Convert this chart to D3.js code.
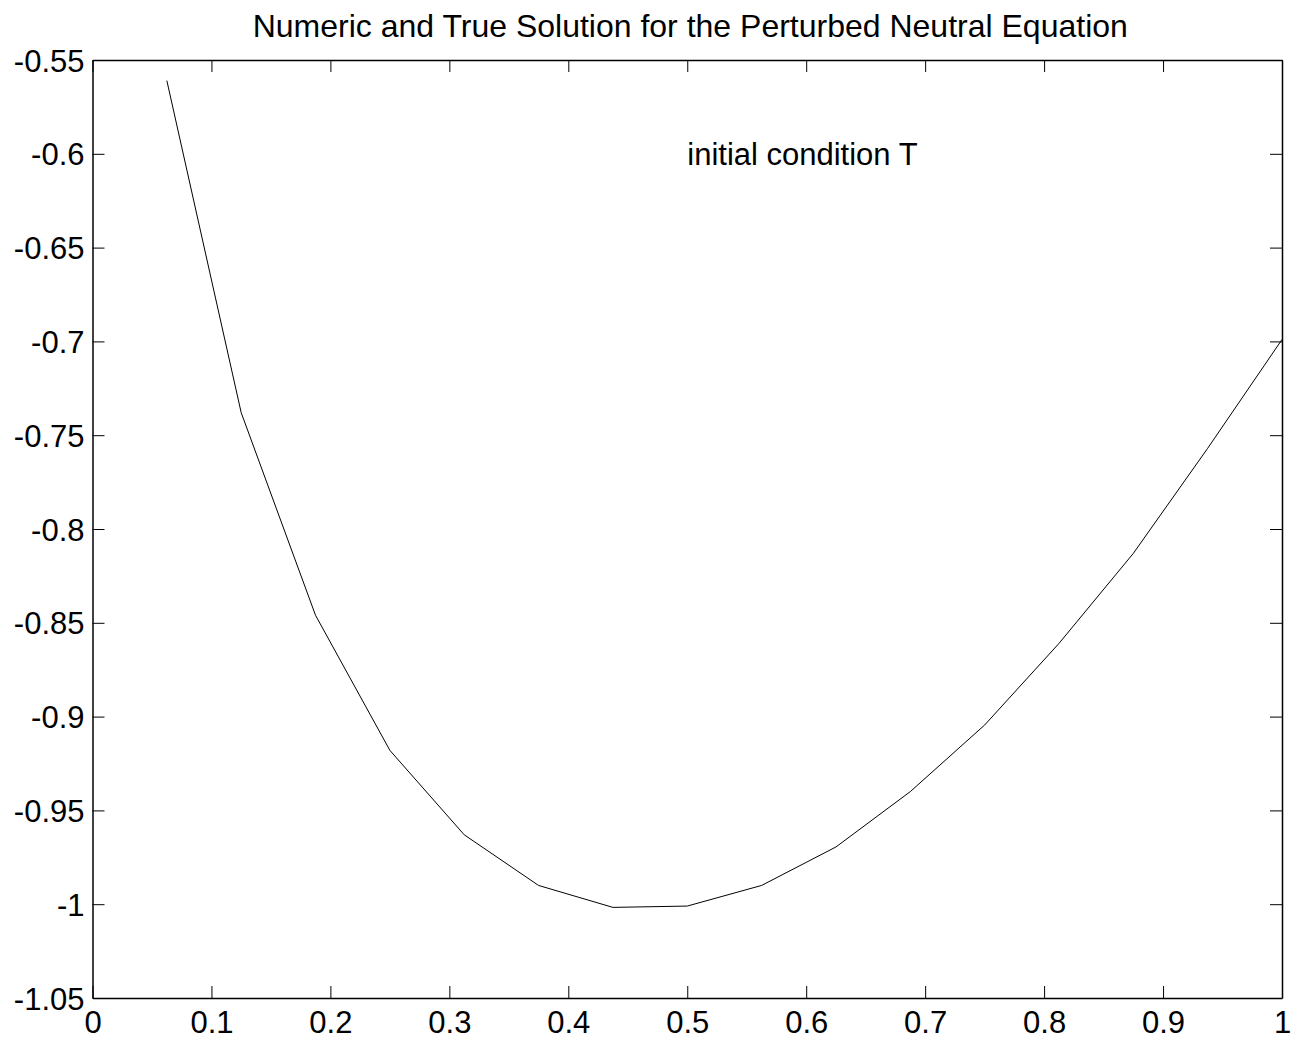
<!DOCTYPE html>
<html lang="en">
  <head>
    <meta charset="UTF-8" />
    <title>Numeric and True Solution for the Perturbed Neutral Equation</title>
    <script src="https://cdn.jsdelivr.net/npm/d3@7"></script>
    <style>
      body { margin: 0; background: #fff; }
      text { font-family: 'Liberation Sans', Arial, sans-serif; fill: #000; }
    </style>
  </head>
  <body>
    <div id='app'></div>

    <script>
  // data (x = k/16)
  const xs = [0.0625, 0.125, 0.1875, 0.25, 0.3125, 0.375, 0.4375, 0.5,
              0.5625, 0.625, 0.6875, 0.75, 0.8125, 0.875, 0.9375, 1.0]
  const ys = [-0.561, -0.738, -0.846, -0.918, -0.963, -0.990, -1.0017, -1.001,
              -0.990, -0.9695, -0.940, -0.9045, -0.861, -0.813, -0.757, -0.699]
  const xTicks = [0, 0.1, 0.2, 0.3, 0.4, 0.5, 0.6, 0.7, 0.8, 0.9, 1]
  const yTicks = [-0.55, -0.6, -0.65, -0.7, -0.75, -0.8, -0.85, -0.9, -0.95, -1, -1.05]

  const width = 1299, height = 1043
  const mLeft = 92.5, mRight = 1282, mTop = 60, mBottom = 998
  const tickLen = 12
  const labelSize = 31

  const svg = d3.select('#app').append('svg')
    .attr('width', width)
    .attr('height', height)

  const x = d3.scaleLinear().domain([0, 1]).range([mLeft, mRight])
  const y = d3.scaleLinear().domain([-1.05, -0.55]).range([mBottom, mTop])

  const fmt = d => String(+d.toFixed(2))

  // bottom + top axes (ticks inward)
  svg.append('g')
    .attr('transform', `translate(0,${mBottom})`)
    .call(d3.axisBottom(x).tickValues(xTicks).tickFormat(fmt).tickSizeInner(-tickLen).tickSizeOuter(0))
    .call(g => g.selectAll('.tick text').attr('font-size', labelSize).attr('y', 13).attr('dy', '0.72em'))
  svg.append('g')
    .attr('transform', `translate(0,${mTop})`)
    .call(d3.axisTop(x).tickValues(xTicks).tickFormat('').tickSizeInner(-tickLen).tickSizeOuter(0))

  // left + right axes
  svg.append('g')
    .attr('transform', `translate(${mLeft},0)`)
    .call(d3.axisLeft(y).tickValues(yTicks).tickFormat(fmt).tickSizeInner(-tickLen).tickSizeOuter(0))
    .call(g => g.selectAll('.tick text').attr('font-size', labelSize).attr('x', -8).attr('dy', '0.36em'))
  svg.append('g')
    .attr('transform', `translate(${mRight},0)`)
    .call(d3.axisRight(y).tickValues(yTicks).tickFormat('').tickSizeInner(-tickLen).tickSizeOuter(0))

  svg.selectAll('.domain').attr('stroke', '#000').attr('stroke-width', 1.5)
  svg.selectAll('.tick line').attr('stroke', '#000').attr('stroke-width', 1)
  svg.selectAll('.tick text').attr('font-family', "'Liberation Sans', Arial, sans-serif").attr('fill', '#000')

  // the curve
  const line = d3.line().x((d, i) => x(xs[i])).y(d => y(d))
  svg.append('path')
    .datum(ys)
    .attr('d', line)
    .attr('fill', 'none')
    .attr('stroke', '#000')
    .attr('stroke-width', 1)

  // title
  svg.append('text')
    .attr('x', (mLeft + mRight) / 2 + 3)
    .attr('y', 37)
    .attr('text-anchor', 'middle')
    .attr('font-size', 32)
    .text('Numeric and True Solution for the Perturbed Neutral Equation')

  // annotation
  svg.append('text')
    .attr('x', x(0.5))
    .attr('y', y(-0.6))
    .attr('dy', '0.36em')
    .attr('font-size', labelSize)
    .text('initial condition T')
    </script>
  </body>
</html>
